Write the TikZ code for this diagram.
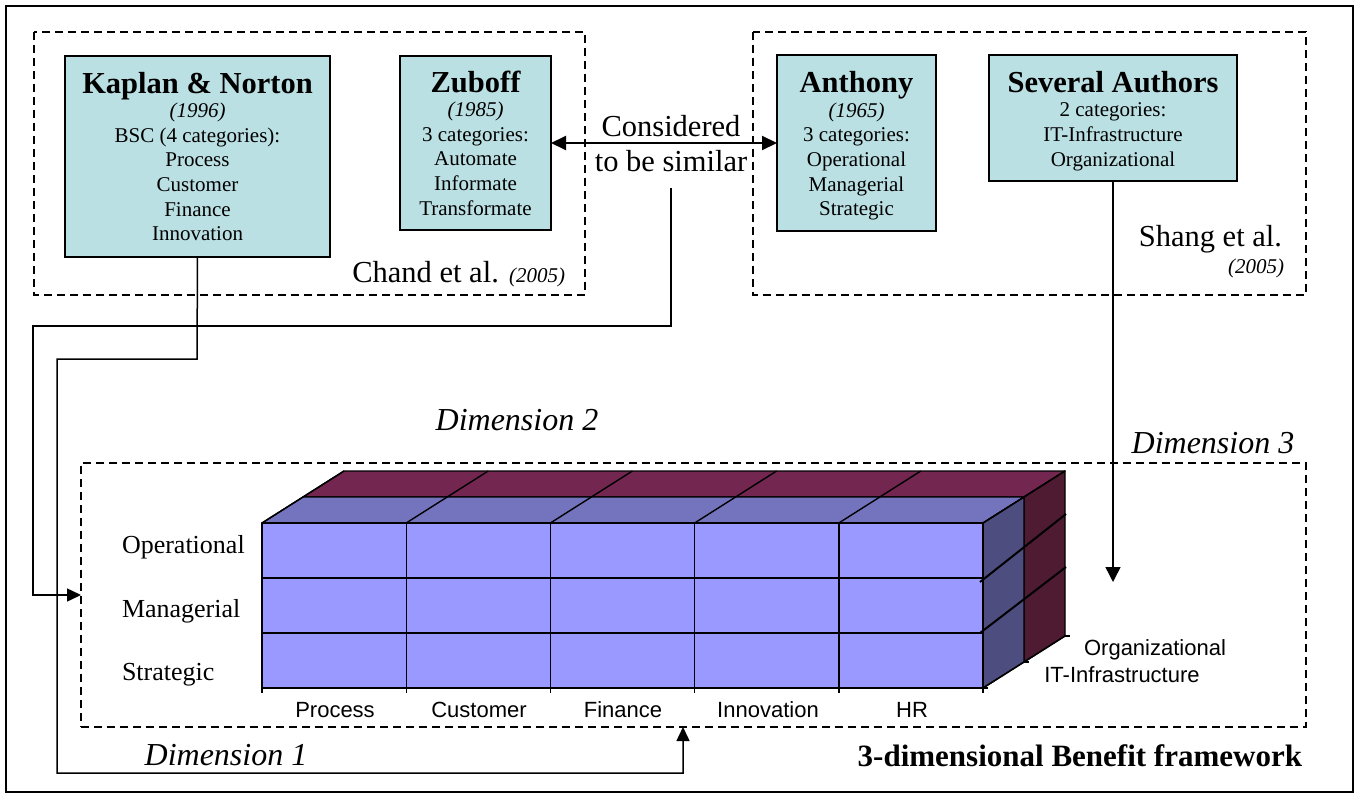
\documentclass[tikz,border=0pt]{standalone}
\usepackage{fontspec}
\setmainfont{Liberation Serif}
\newfontfamily\arialfam{Liberation Sans}
\usetikzlibrary{arrows.meta}

\definecolor{boxfill}{RGB}{187,224,227}
\definecolor{frontc}{RGB}{153,153,255}
\definecolor{topa}{RGB}{116,116,190}
\definecolor{topb}{RGB}{114,38,80}
\definecolor{sidea}{RGB}{77,77,128}
\definecolor{sideb}{RGB}{78,27,51}

\newcommand\fbig{\fontsize{30.5}{35}\selectfont}
\newcommand\fbody{\fontsize{21}{24.6}\selectfont}
\newcommand\fdim{\fontsize{32}{36}\selectfont}

\begin{document}
\begin{tikzpicture}[x=1pt,y=-1pt,
  every node/.style={inner sep=0pt, outer sep=0pt},
  authorbox/.style={draw, line width=1.5pt, fill=boxfill, align=center, font=\fbody},
  groupbox/.style={draw, line width=1.3pt, dash pattern=on 8pt off 5pt},
  conn/.style={line width=1.5pt},
  tipend/.style={-{Triangle[length=14pt,width=13pt]}},
  cubeline/.style={line width=1.4pt, line join=round},
  rowline/.style={line width=2pt},
  axislab/.style={font=\arialfam\fontsize{22}{24}\selectfont},
  rowlab/.style={font=\fontsize{26}{30}\selectfont, anchor=base west},
  dimlab/.style={font=\fdim\itshape, anchor=base}
]
\useasboundingbox (0,0) rectangle (1357,797);
\draw[line width=2pt] (6,6) rectangle (1353,792);

% dashed groups
\draw[groupbox] (34,32) rectangle (585,295);
\draw[groupbox] (753,32) rectangle (1306,295);
\node[groupbox, minimum width=1225pt, minimum height=264pt, anchor=north west] (frame) at (81,463) {};

% author boxes
\node[authorbox, minimum width=265pt, minimum height=201pt] (kap) at (197.5,156.5)
  {{\fbig\bfseries Kaplan \& Norton}\\ \textit{(1996)}\\ BSC (4 categories):\\ Process\\ Customer\\ Finance\\ Innovation};
\node[authorbox, minimum width=151pt, minimum height=174pt] (zub) at (475.5,143)
  {{\fbig\bfseries Zuboff}\\ \textit{(1985)}\\ 3 categories:\\ Automate\\ Informate\\ Transformate};
\node[authorbox, minimum width=159pt, minimum height=176pt] (anth) at (856.5,143)
  {{\fbig\bfseries\rule{0pt}{27pt}Anthony}\\ \textit{(1965)}\\ 3 categories:\\ Operational\\ Managerial\\ Strategic};
\node[authorbox, minimum width=248pt, minimum height=126pt] (sev) at (1113,118)
  {{\fbig\bfseries\rule{0pt}{27pt}Several Authors}\\ 2 categories:\\ IT-Infrastructure\\ Organizational};

\node[anchor=base east] (chand) at (565,282) {{\fbig Chand et al. }{\fontsize{21}{24}\selectfont\itshape (2005)}};
\node[anchor=base east, font=\fbig] (shang) at (1282,246) {Shang et al.};
\node[anchor=base east, font=\fontsize{21}{24}\selectfont\itshape] (shangyr) at (1284,273) {(2005)};

\node[align=center, font=\fbig, inner ysep=16.3pt] (sim) at (671,143.8) {Considered\\to be similar};

% connectors
\draw[line width=2pt, {Triangle[length=15pt,width=14pt]}-{Triangle[length=15pt,width=14pt]}] (zub.east) -- (anth.west);
\draw[conn, tipend] (sim.south) -- (671,326) -- (33,326) |- (frame.west);
\coordinate (d1) at (683,773);
\draw[conn, tipend] (kap.south) -- (197,359) -- (57,359) -- (57,773) -- (d1) -- (d1 |- frame.south);
\coordinate (d3) at (1113,582);
\draw[conn, -{Triangle[length=15pt,width=15pt]}] (sev.south) -- (d3);

% cube: back layer
\draw[cubeline, fill=topb] (303,497) -- (1024,497) -- (1065,471) -- (344,471) -- cycle;
\draw[cubeline, fill=sideb] (1024,497) -- (1065,471) -- (1065,636) -- (1024,662) -- cycle;
% front layer
\draw[cubeline, fill=topa] (262,523) -- (983,523) -- (1024,497) -- (303,497) -- cycle;
\draw[cubeline, fill=sidea] (983,523) -- (1024,497) -- (1024,662) -- (983,688) -- cycle;
\draw[cubeline, fill=frontc] (262,523) rectangle (983,688);
\foreach \i in {0,...,5} {
  \pgfmathsetmacro\cx{262+144.2*\i}
  \draw[cubeline] (\cx,523) -- (\cx,693);
  \draw[cubeline] (\cx,523) -- ++(82,-52);
}
\draw[rowline] (262,578) -- (983,578);
\draw[rowline] (262,633) -- (983,633);
\draw[rowline] (262,688) -- (983,688);
\draw[rowline] (980,582) -- (1066,514);
\draw[rowline] (980,633) -- (1066,567);
\draw[cubeline] (983,688) -- (1065,636);
\draw[cubeline] (983,688) -- (988,688);
\draw[cubeline] (1024,662) -- (1029,662);
\draw[cubeline] (1065,636) -- (1070,636);

% axis labels
\node[axislab, anchor=base] (lp) at (335,717) {Process};
\node[axislab, anchor=base] (lc) at (479,717) {Customer};
\node[axislab, anchor=base] (lf) at (623,717) {Finance};
\node[axislab, anchor=base] (li) at (768,717) {Innovation};
\node[axislab, anchor=base] (lh) at (912,717) {HR};
\node[axislab, anchor=base] (lo) at (1155,655) {Organizational};
\node[axislab, anchor=base] (lit) at (1122,682) {IT-Infrastructure};

\node[rowlab] (rop) at (122,553) {Operational};
\node[rowlab] (rma) at (122,617) {Managerial};
\node[rowlab] (rst) at (122,680) {Strategic};

\node[dimlab] (dim2) at (517,430) {Dimension 2};
\node[dimlab] (dim1) at (226,765) {Dimension 1};
\node[dimlab] (dim3) at (1213,453) {Dimension 3};
\node[anchor=base east, font=\fontsize{31}{35}\selectfont\bfseries] (title) at (1302,766) {3-dimensional Benefit framework};
\end{tikzpicture}
\end{document}
